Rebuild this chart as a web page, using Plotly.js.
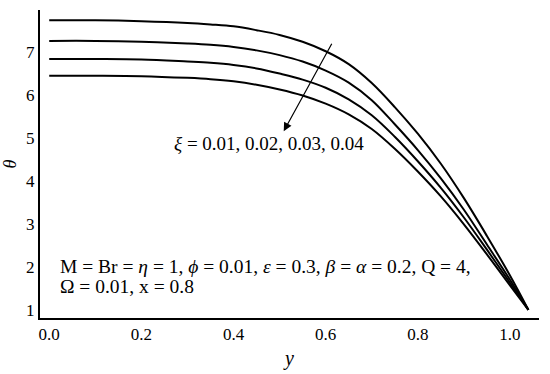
<!DOCTYPE html>
<html>
<head>
<meta charset="utf-8">
<script src="https://cdn.plot.ly/plotly-3.0.1.min.js"></script>
<style>html,body{margin:0;padding:0;background:#fff;}#chart{width:550px;height:374px;}</style>
</head>
<body>
<div id="chart"></div>
<script>
var yPos = [0, 0.1, 0.2, 0.3, 0.35, 0.4, 0.45, 0.5, 0.55, 0.6, 0.65, 0.7, 0.75, 0.8, 0.85, 0.9, 0.95, 1.0, 1.04];
var theta001 = [7.74, 7.74, 7.72, 7.68, 7.645, 7.60, 7.51, 7.40, 7.24, 7.02, 6.72, 6.28, 5.72, 5.10, 4.40, 3.60, 2.72, 1.80, 1.0];
var theta002 = [7.26, 7.26, 7.24, 7.20, 7.17, 7.12, 7.04, 6.93, 6.78, 6.57, 6.29, 5.88, 5.32, 4.72, 4.06, 3.33, 2.52, 1.70, 1.0];
var theta003 = [6.84, 6.84, 6.83, 6.78, 6.75, 6.70, 6.62, 6.50, 6.36, 6.17, 5.90, 5.53, 5.03, 4.46, 3.84, 3.15, 2.40, 1.63, 1.0];
var theta004 = [6.45, 6.45, 6.44, 6.40, 6.37, 6.32, 6.24, 6.13, 5.99, 5.80, 5.55, 5.21, 4.75, 4.22, 3.64, 2.99, 2.29, 1.57, 1.0];
var seriesNames = ["ξ = 0.01", "ξ = 0.02", "ξ = 0.03", "ξ = 0.04"];
var xTicks = [0, 0.2, 0.4, 0.6, 0.8, 1.0];
var xTickText = ["0.0", "0.2", "0.4", "0.6", "0.8", "1.0"];
var yTicks = [1, 2, 3, 4, 5, 6, 7];

var series = [theta001, theta002, theta003, theta004];
var traces = series.map(function (s, i) {
  return {x: yPos, y: s, name: seriesNames[i], mode: 'lines',
          line: {color: '#000', width: 2, shape: 'spline', smoothing: 1},
          hoverinfo: 'skip'};
});

var F = "Liberation Serif";
var layout = {
  width: 550, height: 374,
  margin: {l: 40, r: 11, t: 10, b: 56},
  paper_bgcolor: '#fff', plot_bgcolor: '#fff',
  showlegend: false,
  xaxis: {range: [-0.02, 1.063], tickvals: xTicks, ticktext: xTickText,
          showgrid: false, zeroline: false, showline: true, linecolor: '#000', linewidth: 2,
          ticks: '', tickfont: {family: F, size: 17, color: '#000'},
          title: {text: '<i>y</i>', font: {family: F, size: 20, color: '#000'}, standoff: 8}},
  yaxis: {range: [0.81, 7.98], tickvals: yTicks,
          showgrid: false, zeroline: false, showline: true, linecolor: '#000', linewidth: 2,
          ticks: '', tickfont: {family: F, size: 17, color: '#000'},
          title: {text: '<i>θ</i>', font: {family: F, size: 18, color: '#000'}, standoff: 8}},
  annotations: [
    {x: 0.509, y: 5.16, ax: 0.615, ay: 7.23, xref: 'x', yref: 'y', axref: 'x', ayref: 'y',
     text: '', showarrow: true, arrowhead: 2, arrowsize: 1.4, arrowwidth: 1.2, arrowcolor: '#000'},
    {xref: 'paper', yref: 'paper', x: 0.264, y: 0.568, xanchor: 'left', yanchor: 'middle',
     text: '<i>ξ</i> = 0.01, 0.02, 0.03, 0.04', showarrow: false, font: {family: F, size: 19, color: '#000'}},
    {xref: 'paper', yref: 'paper', x: 0.037, y: 0.166, xanchor: 'left', yanchor: 'middle',
     text: 'M = Br = <i>η</i> = 1, <i>ϕ</i> = 0.01, <i>ε</i> = 0.3, <i>β</i> = <i>α</i> = 0.2, Q = 4,',
     showarrow: false, font: {family: F, size: 19.5, color: '#000'}},
    {xref: 'paper', yref: 'paper', x: 0.037, y: 0.101, xanchor: 'left', yanchor: 'middle',
     text: 'Ω = 0.01, x = 0.8',
     showarrow: false, font: {family: F, size: 19.5, color: '#000'}}
  ]
};
Plotly.newPlot('chart', traces, layout, {staticPlot: true, displayModeBar: false});
</script>
</body>
</html>
